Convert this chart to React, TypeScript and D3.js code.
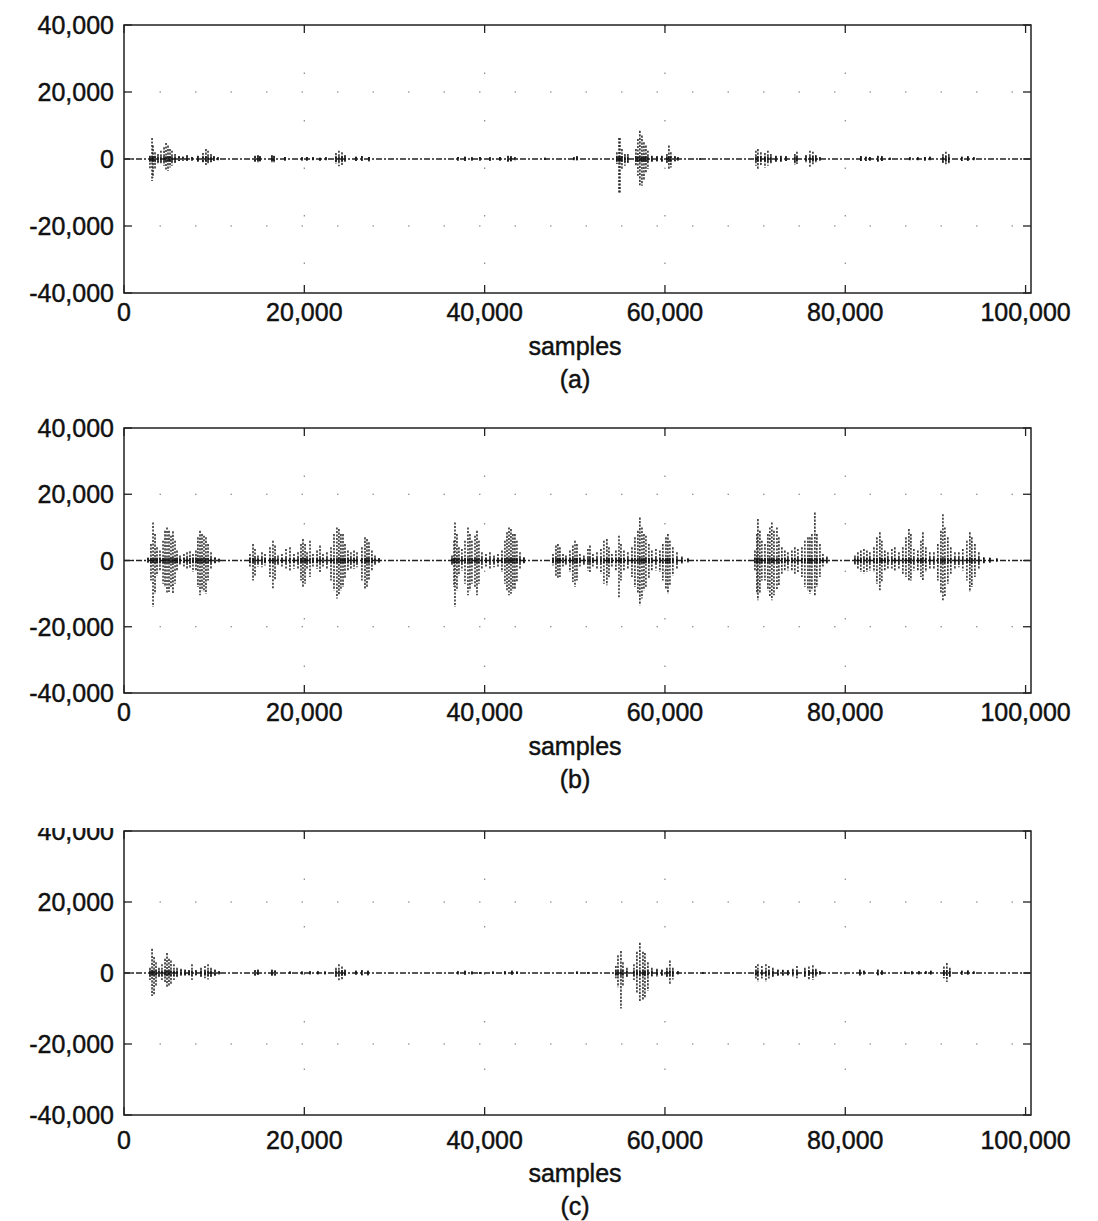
import React from 'react';
import * as d3 from 'd3';

// ---------- data ----------
const xTicks = [0, 20000, 40000, 60000, 80000, 100000];
const xTickLabels = ['0', '20,000', '40,000', '60,000', '80,000', '100,000'];
const yTicks = [40000, 20000, 0, -20000, -40000];
const yTickLabels = ['40,000', '20,000', '0', '-20,000', '-40,000'];
const xAxisTitle = 'samples';
const panelLetters = ['(a)', '(b)', '(c)'];

// [sample, max, min]
const signalA: [number, number, number][] = [
  [2880, 1000, -3000], [3110, 6300, -6600], [3220, 4000, -5500], [3440, 2000, -3000], [3770, 1500, -1500],
  [4100, 2500, -1500], [4440, 3500, -2000], [4660, 4800, -3600], [4880, 4000, -3500], [5100, 3000, -2500],
  [5320, 2500, -2000], [5660, 1500, -1200], [6100, 800, -600], [6540, 700, -500], [6990, 1200, -500],
  [7540, 600, -500], [8200, 1000, -800], [8760, 1800, -1000], [9090, 3000, -1800], [9320, 2500, -1500],
  [9650, 1500, -1000], [9980, 800, -500], [10420, 500, -400],
  [14530, 1000, -900], [14860, 1200, -1000], [15080, 800, -700], [16410, 1200, -1000], [16640, 1000, -1200],
  [17850, 600, -500], [19740, 500, -500], [20290, 600, -500], [20960, 500, -400], [21740, 400, -600],
  [22400, 500, -400], [23510, 1800, -1500], [23840, 2500, -2200], [24180, 2000, -2000], [24510, 1200, -800],
  [25730, 700, -600], [26390, 900, -500], [27170, 600, -700],
  [37040, 600, -500], [37820, 700, -600], [38590, 500, -500], [39480, 600, -500], [40590, 500, -600],
  [41700, 600, -500], [42590, 1000, -800], [42920, 800, -700], [43360, 500, -400], [46690, 400, -300],
  [49900, 500, -400], [50240, 800, -400],
  [54670, 2000, -1500], [54900, 6300, -10200], [55010, 6300, -10000], [55230, 3000, -3000], [55560, 1500, -2000],
  [55890, 1500, -1200], [56780, 3000, -2000], [57000, 6000, -5000], [57220, 8400, -7800], [57450, 7000, -8000],
  [57670, 5000, -6500], [57890, 4000, -4000], [58110, 2500, -3000], [58550, 1000, -800], [59110, 800, -700],
  [59660, 1000, -800], [60220, 1500, -1200], [60440, 4000, -3000], [60660, 2000, -2500], [61110, 800, -700],
  [61440, 500, -500], [63880, 200, -200],
  [70090, 2500, -2000], [70310, 3000, -3200], [70640, 2000, -2000], [71090, 1800, -2500], [71420, 2500, -2000],
  [71750, 1500, -1500], [72310, 1000, -1000], [72860, 1000, -800], [73420, 800, -600], [74410, 1500, -1800],
  [74640, 2200, -1500], [75640, 1200, -1000], [76080, 2500, -2500], [76410, 2200, -2000], [76740, 1200, -1000],
  [77190, 500, -500],
  [81730, 900, -600], [82290, 700, -600], [82730, 600, -500], [83620, 1000, -800], [84060, 800, -600],
  [84950, 400, -300], [87170, 500, -400], [88050, 500, -400], [88830, 600, -500], [89390, 700, -400],
  [90830, 1500, -1200], [91160, 2200, -2000], [91490, 1500, -1500], [92930, 700, -600], [93600, 800, -500],
  [94260, 500, -400],
];

const signalB: [number, number, number][] = [
  [2660, 800, -600], [2990, 5000, -6000], [3220, 11500, -14000], [3440, 8000, -10000], [3660, 4000, -4500],
  [3990, 3000, -3000], [4330, 6000, -7000], [4550, 9000, -8000], [4770, 10000, -10000], [4990, 9000, -9500],
  [5210, 7500, -8000], [5430, 8800, -10000], [5660, 6000, -7000], [5880, 3000, -3000], [6210, 1500, -1200],
  [6650, 2000, -2000], [6990, 2500, -2500], [7320, 2800, -2500], [7650, 2000, -3500], [7980, 3000, -3000],
  [8200, 7000, -8000], [8430, 9000, -10500], [8650, 8000, -9000], [8870, 7500, -9500], [9090, 7000, -10000],
  [9320, 5000, -6000], [9650, 2500, -2500], [10090, 1000, -1000], [10540, 500, -500],
  [13970, 2000, -2000], [14310, 5000, -6000], [14530, 3500, -4500], [14860, 1500, -1800], [15300, 2500, -2000],
  [15640, 2000, -1500], [16190, 4000, -5000], [16520, 6000, -8500], [16750, 4500, -6000], [17080, 1500, -1500],
  [17520, 2000, -2000], [17970, 3500, -2500], [18410, 4000, -3000], [18850, 2000, -2500], [19300, 2500, -2500],
  [19630, 5000, -6000], [19850, 6500, -8000], [20080, 5000, -7000], [20300, 2500, -2500], [20630, 6000, -5000],
  [20960, 2000, -2000], [21410, 3000, -2500], [21740, 4500, -3500], [22070, 2000, -2000], [22510, 2500, -2500],
  [22960, 4000, -6000], [23290, 8000, -9000], [23620, 10000, -11500], [23840, 9500, -10500], [24060, 8000, -9000],
  [24290, 8000, -8000], [24510, 5000, -5500], [24840, 3000, -3000], [25170, 2500, -2500], [25510, 3000, -2500],
  [25840, 2500, -2000], [26390, 4000, -6000], [26730, 7000, -8500], [26950, 6500, -8000], [27170, 5500, -6000],
  [27500, 3000, -3000], [27840, 1500, -1500], [28280, 700, -600],
  [36380, 1500, -1500], [36600, 6000, -8000], [36710, 11500, -14000], [36930, 8000, -9000], [37150, 4000, -4500],
  [37480, 3500, -3000], [37820, 6000, -7000], [38150, 10000, -10500], [38370, 8000, -9000], [38590, 6000, -7000],
  [38930, 7500, -8000], [39150, 9000, -10500], [39370, 6000, -7000], [39700, 2500, -2500], [40150, 2000, -2000],
  [40590, 2500, -2500], [41040, 1500, -2000], [41480, 2000, -2000], [41920, 3000, -3500], [42250, 6000, -7000],
  [42480, 8500, -9000], [42700, 10000, -10500], [42920, 9500, -10000], [43140, 8000, -9000], [43360, 8000, -8500],
  [43580, 6000, -6500], [43920, 2500, -2500], [44360, 1000, -800],
  [47580, 2000, -1500], [47910, 4500, -5000], [48130, 5000, -5500], [48350, 4000, -5000], [48690, 2000, -2000],
  [49020, 1500, -1500], [49460, 3000, -3500], [49790, 4500, -6500], [50020, 6000, -8000], [50240, 5000, -6000],
  [50570, 2000, -2000], [51010, 1500, -1500], [51460, 3500, -3000], [51680, 4500, -3500], [52010, 2000, -2000],
  [52460, 2500, -2500], [52900, 3500, -4000], [53230, 6000, -7000], [53560, 6500, -7500], [53790, 4000, -5000],
  [54120, 2000, -2000], [54560, 3000, -3000], [54900, 7500, -11500], [55120, 5000, -6000], [55450, 3000, -3000],
  [55890, 2500, -2500], [56340, 4000, -5000], [56670, 7000, -8000], [57000, 9000, -10000], [57220, 13000, -13500],
  [57450, 10000, -11500], [57670, 8000, -9000], [57890, 7500, -8000], [58220, 5000, -5500], [58550, 3000, -3000],
  [59000, 3500, -3000], [59440, 3000, -3500], [59770, 5000, -6000], [60110, 7000, -8500], [60330, 8000, -10000],
  [60550, 6000, -7500], [60880, 4000, -4500], [61330, 2500, -2500], [61880, 1200, -1000], [62550, 600, -500],
  [69980, 3000, -3000], [70200, 8000, -10000], [70310, 12500, -12000], [70530, 9000, -10000], [70750, 6000, -6000],
  [71090, 5000, -6000], [71420, 8000, -9000], [71640, 10000, -11000], [71860, 11500, -12000], [72090, 9000, -10500],
  [72420, 10000, -9000], [72640, 7000, -7500], [72970, 4000, -4000], [73300, 3000, -3000], [73640, 2500, -3000],
  [74080, 3000, -3000], [74410, 4000, -4000], [74750, 3500, -3500], [75190, 4000, -5000], [75520, 6000, -8000],
  [75860, 7000, -9000], [76080, 7000, -10000], [76300, 8000, -9000], [76630, 14500, -10500], [76850, 8000, -8000],
  [77190, 5000, -5000], [77520, 2000, -2000], [77960, 1200, -1000],
  [81070, 1500, -1200], [81400, 2500, -2500], [81730, 3000, -3500], [82070, 3500, -4000], [82400, 3000, -3500],
  [82730, 2500, -3000], [83180, 4000, -3500], [83510, 7000, -7000], [83840, 8500, -9000], [84060, 6000, -6500],
  [84390, 3000, -3000], [84730, 2500, -2500], [85170, 3500, -2500], [85500, 4000, -3000], [85950, 2500, -2500],
  [86390, 4000, -4000], [86730, 7000, -5000], [87060, 9500, -6000], [87280, 8000, -6000], [87610, 3500, -3000],
  [88050, 3000, -3000], [88390, 6000, -5000], [88610, 8500, -6000], [88940, 4000, -3500], [89380, 2500, -2500],
  [89830, 2500, -2500], [90270, 5000, -6000], [90610, 9000, -10000], [90830, 14000, -12000], [91050, 10000, -11000],
  [91380, 7000, -7000], [91710, 4000, -4000], [92160, 2500, -2500], [92600, 2500, -2000], [93040, 3500, -3000],
  [93490, 6000, -6000], [93820, 8500, -9500], [94040, 7000, -8000], [94380, 5000, -5000], [94820, 2500, -2500],
  [95370, 1000, -1000], [96040, 800, -600], [96810, 600, -400],
];

const signalC: [number, number, number][] = [
  [2880, 1500, -2000], [3110, 6800, -6500], [3330, 4500, -6000], [3550, 3000, -3500], [3880, 1500, -1500],
  [4210, 2500, -2000], [4550, 4000, -2500], [4770, 5600, -4000], [4990, 4000, -3500], [5210, 3500, -3000],
  [5540, 2500, -2000], [5880, 1500, -1200], [6320, 1200, -800], [6770, 1000, -700], [7210, 800, -600],
  [7540, 2500, -2000], [7980, 800, -600], [8540, 1500, -1200], [8980, 2000, -1500], [9320, 2500, -1800],
  [9650, 1500, -1200], [10090, 1000, -800], [10540, 500, -400],
  [14530, 800, -700], [14860, 1000, -500], [16410, 1000, -800], [16750, 700, -700], [18410, 400, -300],
  [19740, 400, -400], [20630, 500, -400], [21510, 500, -400], [22290, 400, -400], [23510, 1500, -1500],
  [23840, 2500, -2200], [24180, 1800, -2000], [24510, 1000, -800], [25730, 600, -500], [26390, 800, -600],
  [27060, 600, -600],
  [37040, 500, -400], [37820, 600, -500], [38590, 400, -400], [39480, 300, -300], [40920, 400, -300],
  [42250, 500, -400], [43030, 600, -500], [43580, 400, -300], [50240, 400, -300], [51460, 300, -200],
  [54560, 2000, -1500], [54790, 5000, -4000], [55120, 6200, -10000], [55340, 3000, -3500], [55780, 1500, -1500],
  [56560, 2500, -2000], [56890, 6000, -5500], [57220, 8500, -8000], [57560, 6000, -7500], [57780, 5600, -7000],
  [58110, 3000, -5000], [58550, 1500, -1000], [59110, 1200, -1000], [59660, 1000, -800], [60220, 1500, -1200],
  [60550, 3500, -3000], [60880, 1500, -1800], [61440, 500, -400], [64210, 200, -200], [67540, 200, -200],
  [70090, 2000, -2000], [70310, 2500, -2500], [70750, 2000, -1800], [71200, 2500, -2500], [71530, 2000, -2000],
  [71970, 1500, -1200], [72530, 1000, -800], [73080, 900, -700], [73640, 800, -600], [74190, 1200, -1000],
  [74640, 2000, -1500], [75520, 1500, -1200], [75970, 1800, -1800], [76410, 2200, -2000], [76740, 1200, -1000],
  [77190, 500, -500],
  [81620, 1000, -700], [82070, 600, -400], [83620, 1000, -600], [84060, 700, -500], [86610, 400, -300],
  [87390, 500, -400], [88170, 500, -400], [88940, 500, -300], [89490, 600, -400], [90940, 1800, -1500],
  [91270, 2800, -2500], [91600, 1500, -1500], [92930, 600, -500], [93600, 700, -400], [94260, 400, -300],
];

// ---------- layout ----------
const W = 1098;
const H = 1221;
const X0 = 124;
const X1 = 1031;
const FONT = '"Liberation Sans", Arial, Helvetica, sans-serif';
const FS = 25;

const panels = [
  { top: 25, bottom: 293, data: signalA, tickBase: 321, titleBase: 355, letterBase: 388, clipTop: 0 },
  { top: 428, bottom: 693, data: signalB, tickBase: 721, titleBase: 755, letterBase: 788, clipTop: 0 },
  { top: 831, bottom: 1115, data: signalC, tickBase: 1149, titleBase: 1182, letterBase: 1215, clipTop: 828 },
];

const x = d3.scaleLinear().domain([0, 100600]).range([X0, X1]);

const textStyle = {
  fontFamily: FONT,
  fontSize: FS,
  fill: '#111',
  stroke: '#111',
  strokeWidth: 0.45,
} as const;

function Panel({ p, idx }: { p: typeof panels[number]; idx: number }) {
  const y = d3.scaleLinear().domain([-40000, 40000]).range([p.bottom, p.top]);
  const tickLen = 8;
  const clipId = `clip-label-${idx}`;
  return (
    <g>
      {p.clipTop > 0 && (
        <defs>
          <clipPath id={clipId}>
            <rect x={0} y={p.clipTop} width={X0} height={H} />
          </clipPath>
        </defs>
      )}
      {/* faint dotted gridlines */}
      {[20000, -20000].map((v) => (
        <line key={'gh' + v} x1={X0} x2={X1} y1={y(v)} y2={y(v)} stroke="#777" strokeWidth={1.2} strokeDasharray="1.5 34" />
      ))}
      {xTicks.slice(1, 5).map((v) => (
        <line key={'gv' + v} x1={x(v)} x2={x(v)} y1={p.top} y2={p.bottom} stroke="#888" strokeWidth={1.2} strokeDasharray="1.5 46" />
      ))}
      {/* baseline */}
      <line x1={X0} x2={X1} y1={y(0)} y2={y(0)} stroke="#222" strokeWidth={1.3} strokeDasharray="6 2 2 2" />
      {/* waveform */}
      {p.data.map(([s, mx, mn], i) => (
        <g key={i}>
          <line x1={x(s)} x2={x(s)} y1={y(mx)} y2={y(mn)} stroke="#262626" strokeWidth={1.5} strokeDasharray="2.2 1.3" />
          <line x1={x(s)} x2={x(s)} y1={y(Math.min(mx, 800))} y2={y(Math.max(mn, -800))} stroke="#111" strokeWidth={1.5} />
        </g>
      ))}
      {/* frame */}
      <rect x={X0} y={p.top} width={X1 - X0} height={p.bottom - p.top} fill="none" stroke="#222" strokeWidth={1.5} />
      {/* ticks */}
      {xTicks.map((v) => (
        <g key={'xt' + v}>
          <line x1={x(v)} x2={x(v)} y1={p.bottom} y2={p.bottom - tickLen} stroke="#222" strokeWidth={1.3} />
          <line x1={x(v)} x2={x(v)} y1={p.top} y2={p.top + tickLen} stroke="#222" strokeWidth={1.3} />
        </g>
      ))}
      {yTicks.map((v) => (
        <g key={'yt' + v}>
          <line x1={X0} x2={X0 + tickLen} y1={y(v)} y2={y(v)} stroke="#222" strokeWidth={1.3} />
          <line x1={X1} x2={X1 - tickLen} y1={y(v)} y2={y(v)} stroke="#222" strokeWidth={1.3} />
        </g>
      ))}
      {/* tick labels */}
      {xTicks.map((v, i) => (
        <text key={'xl' + v} x={x(v)} y={p.tickBase} textAnchor="middle" style={textStyle}>
          {xTickLabels[i]}
        </text>
      ))}
      {yTicks.map((v, i) => (
        <text
          key={'yl' + v}
          x={114}
          y={y(v) + 9}
          textAnchor="end"
          style={textStyle}
          clipPath={p.clipTop > 0 && i === 0 ? `url(#${clipId})` : undefined}
        >
          {yTickLabels[i]}
        </text>
      ))}
      <text x={(X0 + 1026) / 2} y={p.titleBase} textAnchor="middle" style={textStyle}>
        {xAxisTitle}
      </text>
      <text x={(X0 + 1026) / 2} y={p.letterBase} textAnchor="middle" style={textStyle}>
        {panelLetters[idx]}
      </text>
    </g>
  );
}

export default function App() {
  return (
    <svg
      width={W}
      height={H}
      viewBox={`0 0 ${W} ${H}`}
      style={{ position: 'absolute', left: 0, top: 0, background: '#fff', display: 'block' }}
    >
      <rect x={0} y={0} width={W} height={H} fill="#fff" />
      {panels.map((p, i) => (
        <Panel key={i} p={p} idx={i} />
      ))}
    </svg>
  );
}
